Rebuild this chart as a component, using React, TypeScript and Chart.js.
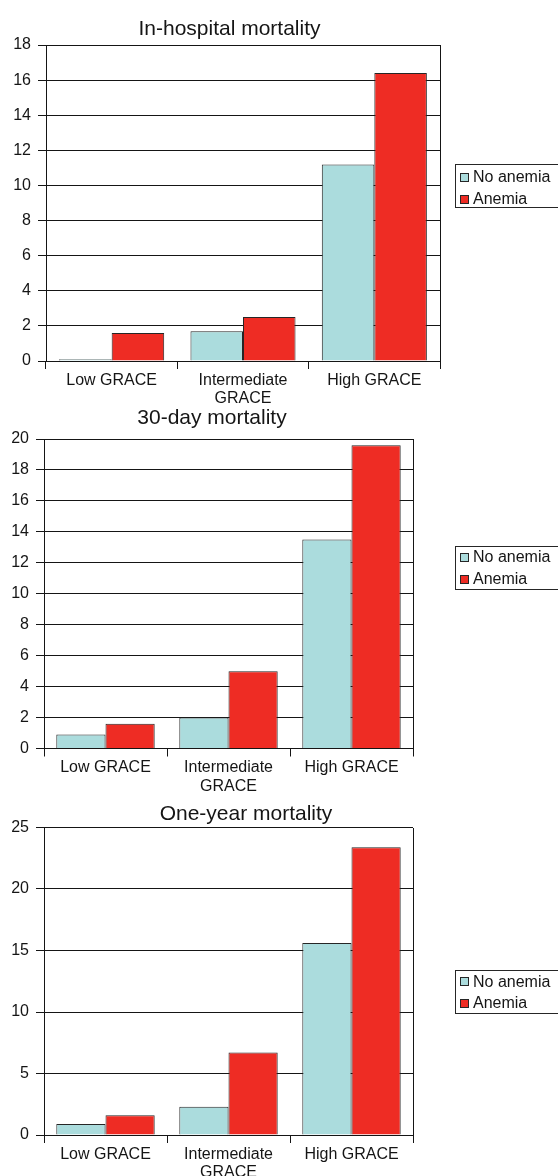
import React, { useEffect, useRef } from "react";
import { Chart, registerables } from "chart.js";

Chart.register(...registerables);

// ---- data ----
const categories: (string | string[])[] = ["Low GRACE", ["Intermediate", "GRACE"], "High GRACE"];
const seriesNames = ["No anemia", "Anemia"];
const titles = ["In-hospital mortality", "30-day mortality", "One-year mortality"];

const inHospitalNoAnemia = [0.1, 1.7, 11.2];
const inHospitalAnemia = [1.6, 2.5, 16.4];
const day30NoAnemia = [0.9, 2.0, 13.5];
const day30Anemia = [1.6, 5.0, 19.6];
const oneYearNoAnemia = [0.9, 2.3, 15.6];
const oneYearAnemia = [1.6, 6.7, 23.4];

const yMaxes = [18, 20, 25];
const ySteps = [2, 2, 5];

// ---- styling / layout ----
const FONT = '"Liberation Sans", Arial, Helvetica, sans-serif';
const INK = "#151515";
const CYAN = "#abdcdd";
const RED = "#ee2c24";
const EDGE = "#262626";
const W = 558;
const XH = 52;

const panels = [
  { top: 0, height: 420, plotLeft: 46, plotRight: 440, plotTop: 45, plotBottom: 361, titleX: 229.5, titleY: 35, legendTop: 164, itemY: [177, 199] },
  { top: 400, height: 410, plotLeft: 44, plotRight: 413, plotTop: 39, plotBottom: 348.5, titleX: 212, titleY: 24, legendTop: 146, itemY: [157, 179] },
  { top: 790, height: 405, plotLeft: 44, plotRight: 413, plotTop: 37.5, plotBottom: 345, titleX: 246, titleY: 30, legendTop: 180, itemY: [191.7, 213] },
];

const seriesData = [
  [inHospitalNoAnemia, inHospitalAnemia],
  [day30NoAnemia, day30Anemia],
  [oneYearNoAnemia, oneYearAnemia],
];

const overlayPlugin = {
  id: "overlay",
  afterDraw(chart: any, _args: any, opts: any) {
    const ctx = chart.ctx as CanvasRenderingContext2D;
    const a = chart.chartArea;
    ctx.save();
    // right frame line
    ctx.strokeStyle = INK;
    ctx.lineWidth = 1;
    ctx.beginPath();
    ctx.moveTo(Math.round(a.right) + 0.5, Math.round(a.top));
    ctx.lineTo(Math.round(a.right) + 0.5, Math.round(a.bottom) + 1);
    ctx.stroke();
    // title
    ctx.fillStyle = INK;
    ctx.font = `21px ${FONT}`;
    ctx.textAlign = "center";
    ctx.textBaseline = "alphabetic";
    ctx.fillText(opts.title, opts.titleX, opts.titleY);
    // legend box
    ctx.strokeStyle = EDGE;
    ctx.strokeRect(455.5, opts.legendTop + 0.5, 130, 43);
    ctx.font = `16px ${FONT}`;
    ctx.textAlign = "left";
    ctx.textBaseline = "middle";
    chart.data.datasets.forEach((ds: any, i: number) => {
      const cy = opts.itemY[i];
      ctx.fillStyle = ds.backgroundColor;
      ctx.fillRect(460, Math.round(cy - 4.5), 9, 9);
      ctx.strokeStyle = EDGE;
      ctx.strokeRect(460.5, Math.round(cy - 4.5) + 0.5, 8, 8);
      ctx.fillStyle = INK;
      ctx.fillText(ds.label, 473, cy + 1);
    });
    ctx.restore();
  },
};

function Panel({ idx }: { idx: number }) {
  const ref = useRef<HTMLCanvasElement>(null);
  const cfg = panels[idx];
  useEffect(() => {
    const chart = new Chart(ref.current as HTMLCanvasElement, {
      type: "bar",
      data: {
        labels: categories as any,
        datasets: seriesNames.map((name, i) => ({
          label: name,
          data: seriesData[idx][i],
          backgroundColor: i === 0 ? CYAN : RED,
          borderColor: EDGE,
          borderWidth: 1,
          categoryPercentage: 0.8,
          barPercentage: 1,
        })),
      },
      options: {
        responsive: false,
        animation: false,
        devicePixelRatio: 1,
        layout: {
          padding: {
            left: 0,
            right: W - cfg.plotRight,
            top: cfg.plotTop,
            bottom: cfg.height - cfg.plotBottom - XH,
          },
        },
        plugins: {
          legend: { display: false },
          title: { display: false },
          tooltip: { enabled: false },
          overlay: {
            title: titles[idx],
            titleX: cfg.titleX,
            titleY: cfg.titleY,
            legendTop: cfg.legendTop,
            itemY: cfg.itemY,
          },
        } as any,
        scales: {
          x: {
            grid: { display: true, drawOnChartArea: false, offset: true, color: INK, tickLength: 8, lineWidth: 1 },
            border: { display: true, color: INK, width: 1 },
            ticks: { font: { size: 16, family: FONT, lineHeight: 1.15 }, color: INK, padding: 2, maxRotation: 0, autoSkip: false },
            afterFit: (s: any) => { s.height = XH; },
          },
          y: {
            min: 0,
            max: yMaxes[idx],
            ticks: { stepSize: ySteps[idx], font: { size: 16, family: FONT }, color: INK, padding: 7 },
            grid: { color: INK, tickLength: 8, lineWidth: 1 },
            border: { display: true, color: INK, width: 1 },
            afterFit: (s: any) => { s.width = cfg.plotLeft; },
          },
        },
      },
      plugins: [overlayPlugin],
    });
    return () => chart.destroy();
  }, []);
  return (
    <canvas
      ref={ref}
      width={W}
      height={cfg.height}
      style={{ position: "absolute", left: 0, top: cfg.top, display: "block" }}
    />
  );
}

export default function App() {
  return (
    <div style={{ position: "absolute", left: 0, top: 0, width: W, height: 1176, background: "#fff", overflow: "hidden" }}>
      <Panel idx={0} />
      <Panel idx={1} />
      <Panel idx={2} />
    </div>
  );
}
